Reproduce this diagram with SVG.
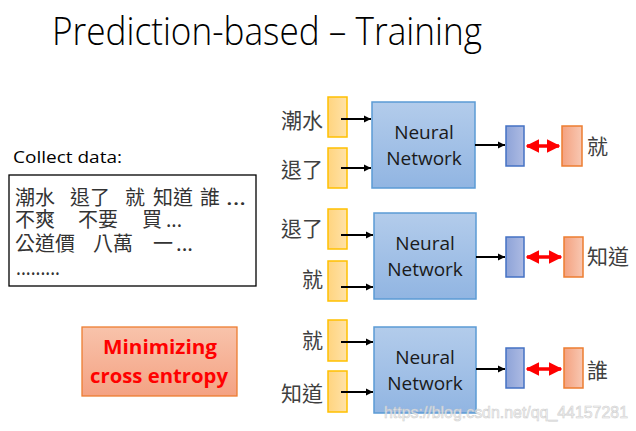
<svg xmlns="http://www.w3.org/2000/svg" width="636" height="431" viewBox="0 0 636 431">
<defs>
<style>
.cjk{font-family:"Noto Sans CJK TC","Noto Sans CJK SC",sans-serif;fill:#404040;font-size:21px}
.d{font-family:"Noto Sans CJK TC","Noto Sans CJK SC",sans-serif;fill:#333;font-size:20px}
.lat{font-family:"Open Sans","Liberation Sans",sans-serif}
.nn{font-family:"Open Sans","Liberation Sans",sans-serif;font-size:19px;fill:#1a1a1a;text-anchor:middle}
.in{fill:url(#gY);stroke:#ffc000;stroke-width:1.5}
.net{fill:url(#gB);stroke:#5b9bd5;stroke-width:1.5}
.out{fill:url(#gP);stroke:#4472c4;stroke-width:1.5}
.tgt{fill:url(#gO);stroke:#ed7d31;stroke-width:1.5}
.ar{stroke:#000;stroke-width:2;fill:none;marker-end:url(#ah)}
.rd{stroke:#ff0000;stroke-width:3.5;fill:none;marker-start:url(#rh);marker-end:url(#rh)}
</style>
<linearGradient id="gY" x1="0" y1="0" x2="1" y2="0"><stop offset="0" stop-color="#ffd47f"/><stop offset="1" stop-color="#ffe2a8"/></linearGradient>
<linearGradient id="gB" x1="0" y1="0" x2="0" y2="1"><stop offset="0" stop-color="#b3cceb"/><stop offset="1" stop-color="#91b5e2"/></linearGradient>
<linearGradient id="gP" x1="0" y1="0" x2="1" y2="0"><stop offset="0" stop-color="#8ea3d8"/><stop offset="1" stop-color="#adbbe3"/></linearGradient>
<linearGradient id="gO" x1="0" y1="0" x2="1" y2="0"><stop offset="0" stop-color="#f4a17f"/><stop offset="1" stop-color="#f8c8b3"/></linearGradient>
<linearGradient id="gM" x1="0" y1="0" x2="0" y2="1"><stop offset="0" stop-color="#f8c3ab"/><stop offset="1" stop-color="#f4a283"/></linearGradient>
<marker id="ah" viewBox="0 0 10 10" refX="10" refY="5" markerWidth="3.6" markerHeight="3.6" orient="auto" markerUnits="strokeWidth"><path d="M0,0 L10,5 L0,10 z" fill="#000"/></marker>
<marker id="rh" viewBox="0 0 10 10" refX="9" refY="5" markerWidth="3.8" markerHeight="3.8" orient="auto-start-reverse" markerUnits="strokeWidth"><path d="M0,0 L10,5 L0,10 z" fill="#ff0000"/></marker>
</defs>
<rect width="636" height="431" fill="#ffffff"/>
<text x="52" y="45" class="lat" font-size="39" font-weight="300" fill="#000" textLength="430" lengthAdjust="spacingAndGlyphs">Prediction-based – Training</text>

<g id="data">
<text x="13" y="163" class="lat" font-size="17" fill="#000" textLength="109" lengthAdjust="spacingAndGlyphs">Collect data:</text>
<rect x="9" y="175" width="247" height="111" fill="#fff" stroke="#000" stroke-width="1.3"/>
<text x="15" y="205" class="d">潮水</text>
<text x="70" y="205" class="d">退了</text>
<text x="125" y="205" class="d">就</text>
<text x="153" y="205" class="d">知道</text>
<text x="200" y="205" class="d">誰</text>
<text x="226" y="205" class="d" textLength="20" lengthAdjust="spacingAndGlyphs">...</text>
<text x="15" y="227" class="d">不爽</text>
<text x="78" y="227" class="d">不要</text>
<text x="142" y="227" class="d">買</text>
<text x="166" y="227" class="d" textLength="16" lengthAdjust="spacingAndGlyphs">...</text>
<text x="15" y="251" class="d">公道價</text>
<text x="93" y="251" class="d">八萬</text>
<text x="153" y="251" class="d">一</text>
<text x="176" y="251" class="d" textLength="17" lengthAdjust="spacingAndGlyphs">...</text>
<text x="16" y="275" class="d" textLength="44" lengthAdjust="spacingAndGlyphs">.........</text>
</g>

<g id="loss">
<rect x="82" y="327" width="155" height="69" fill="url(#gM)" stroke="#ed7d31" stroke-width="1.3"/>
<text x="160" y="354" class="lat" font-size="20" font-weight="bold" fill="#ff0000" text-anchor="middle" textLength="114" lengthAdjust="spacingAndGlyphs">Minimizing</text>
<text x="159" y="383" class="lat" font-size="20" font-weight="bold" fill="#ff0000" text-anchor="middle" textLength="138" lengthAdjust="spacingAndGlyphs">cross entropy</text>
</g>

<g id="row1">
<text x="323" y="128" class="cjk" text-anchor="end">潮水</text>
<text x="323" y="177" class="cjk" text-anchor="end">退了</text>
<rect x="328" y="97" width="19" height="40" class="in"/>
<rect x="328" y="148" width="19" height="40" class="in"/>
<rect x="372" y="102" width="103" height="86" class="net"/>
<text x="424" y="139" class="nn">Neural</text>
<text x="424" y="165" class="nn">Network</text>
<rect x="506" y="126" width="18" height="40" class="out"/>
<rect x="562" y="126" width="20" height="40" class="tgt"/>
<text x="587" y="154" class="cjk">就</text>
</g>

<g id="row2">
<text x="323" y="236" class="cjk" text-anchor="end">退了</text>
<text x="323" y="287" class="cjk" text-anchor="end">就</text>
<rect x="328" y="209" width="19" height="40" class="in"/>
<rect x="328" y="261" width="19" height="40" class="in"/>
<rect x="374" y="213" width="102" height="86" class="net"/>
<text x="425" y="250" class="nn">Neural</text>
<text x="425" y="276" class="nn">Network</text>
<rect x="506" y="237" width="18" height="40" class="out"/>
<rect x="564" y="237" width="19" height="40" class="tgt"/>
<text x="587" y="264" class="cjk">知道</text>
</g>

<g id="row3">
<text x="323" y="348" class="cjk" text-anchor="end">就</text>
<text x="323" y="401" class="cjk" text-anchor="end">知道</text>
<rect x="328" y="320" width="19" height="41" class="in"/>
<rect x="328" y="371" width="19" height="41" class="in"/>
<rect x="374" y="327" width="102" height="86" class="net"/>
<text x="425" y="364" class="nn">Neural</text>
<text x="425" y="390" class="nn">Network</text>
<rect x="506" y="348" width="18" height="40" class="out"/>
<rect x="564" y="348" width="19" height="40" class="tgt"/>
<text x="587" y="378" class="cjk">誰</text>
</g>

<g id="connectors">
<line x1="341" y1="119" x2="371" y2="119" class="ar"/>
<line x1="341" y1="168" x2="371" y2="168" class="ar"/>
<line x1="475" y1="145" x2="505" y2="145" class="ar"/>
<line x1="527" y1="146" x2="559" y2="146" class="rd"/>
<line x1="341" y1="235" x2="373" y2="235" class="ar"/>
<line x1="341" y1="287" x2="373" y2="287" class="ar"/>
<line x1="476" y1="257" x2="505" y2="257" class="ar"/>
<line x1="527" y1="257" x2="561" y2="257" class="rd"/>
<line x1="341" y1="342" x2="373" y2="342" class="ar"/>
<line x1="341" y1="392" x2="373" y2="392" class="ar"/>
<line x1="476" y1="369" x2="505" y2="369" class="ar"/>
<line x1="527" y1="369" x2="561" y2="369" class="rd"/>
</g>

<text x="384" y="418" font-family="'Liberation Sans',Arial,sans-serif" font-size="17" fill="#f2f2f2" stroke="#c8c8c8" stroke-width="0.6" opacity="0.85" textLength="244" lengthAdjust="spacingAndGlyphs">https://blog.csdn.net/qq_44157281</text>
</svg>
